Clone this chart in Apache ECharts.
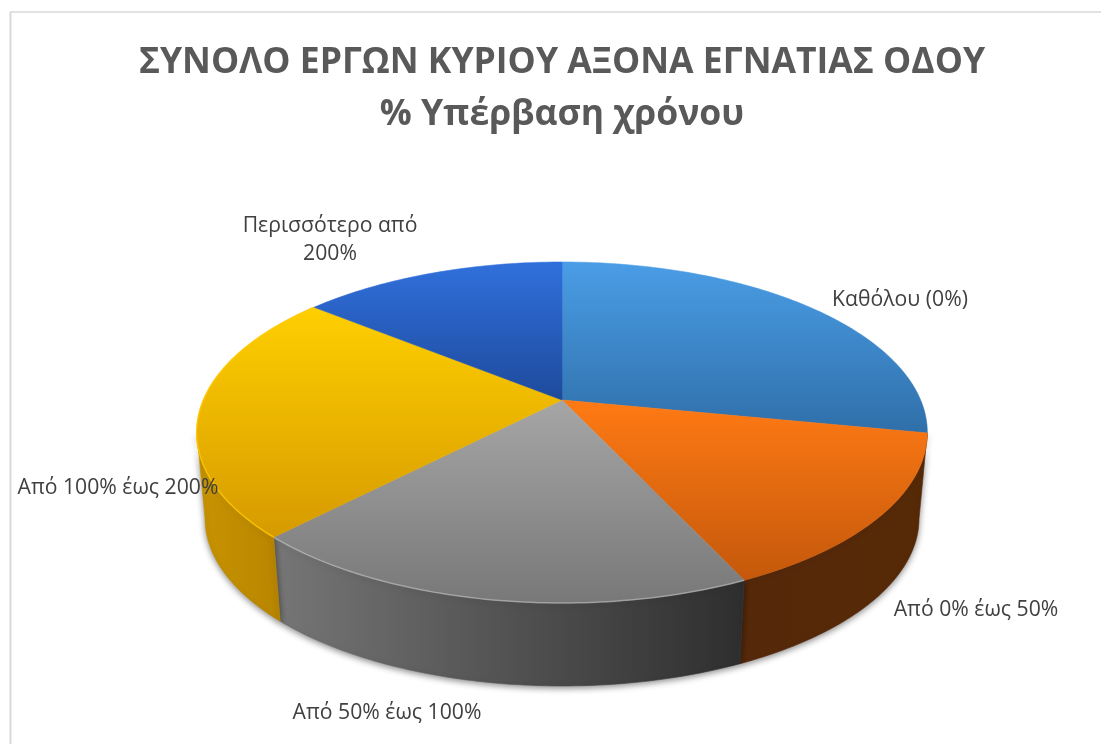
<!DOCTYPE html>
<html>
<head>
<meta charset="utf-8">
<style>html,body{margin:0;padding:0;background:#fff}#chart{width:1101px;height:744px}</style>
<script src="https://cdn.jsdelivr.net/npm/echarts@6/dist/echarts.min.js"></script>
</head>
<body>
<div id="chart"></div>
<script>
const categories = ['Καθόλου (0%)', 'Από 0% έως 50%', 'Από 50% έως 100%', 'Από 100% έως 200%', 'Περισσότερο από\n200%'];
const shares = [28.1, 15.0, 19.1, 23.7, 14.1];
const titleText = 'ΣΥΝΟΛΟ ΕΡΓΩΝ ΚΥΡΙΟΥ ΑΞΟΝΑ ΕΓΝΑΤΙΑΣ ΟΔΟΥ\n% Υπέρβαση χρόνου';

const topColors = [['#4A9DE6', '#2F6FA9'], ['#FF7A14', '#C4580B'], ['#A6A6A6', '#787878'], ['#FFCF00', '#D69A00'], ['#3070DC', '#1E4A9C']];
const wallColors = [['#2F6FA9', '#2F6FA9'], ['#55280A', '#572A06'], ['#767676', '#2E2E2E'], ['#C99400', '#B88500'], ['#1E4A9C', '#1E4A9C']];
const rimColors = ['rgba(0,0,0,0)', 'rgba(0,0,0,0)', 'rgba(205,205,205,0.5)', 'rgba(255,200,0,0.8)', 'rgba(0,0,0,0)'];
const labelPos = [[900, 300], [976, 610], [387, 713], [118, 488], [330, 240]];

// Perspective view of the disc: tip of the wedges, top ellipse and base ellipse
const view = { cx: 562, tipY: 400, A: 358.6, B: 164.3, a: 0.1906, topCy: 432, topRx: 365.3, topRy: 171, baseCy: 518, baseRx: 357, baseRy: 168, frontFrom: 100.8, frontTo: 259.2 };

const total = shares.reduce((s, v) => s + v, 0);
function startAngle(i) {
  let s = 0;
  for (let k = 0; k < i; k++) s += shares[k];
  return s / total * 360;
}
function topPoint(deg) {
  const r = deg * Math.PI / 180, u = Math.sin(r), v = Math.cos(r), d = 1 + view.a * v;
  return [view.cx + view.A * u / d, view.tipY - view.B * v / d];
}
function basePoint(deg) {
  const p = topPoint(deg);
  return [view.cx + (p[0] - view.cx) / view.topRx * view.baseRx,
          view.baseCy + (p[1] - view.topCy) / view.topRy * view.baseRy];
}
function arc(fn, from, to) {
  const pts = [], n = Math.max(2, Math.ceil(to - from));
  for (let k = 0; k <= n; k++) pts.push(fn(from + (to - from) * k / n));
  return pts;
}
function grad(c, horizontal) {
  return new echarts.graphic.LinearGradient(0, 0, horizontal ? 1 : 0, horizontal ? 0 : 1, [
    { offset: 0, color: c[0] }, { offset: 1, color: c[1] }
  ]);
}
function rangeOf(api) {
  const i = api.value(0), from = startAngle(i);
  return { i, from, to: from + api.value(1) / total * 360 };
}

const chartData = shares.map((v, i) => ({ name: categories[i], value: [i, v] }));
const chart = echarts.init(document.getElementById('chart'), null, { renderer: 'canvas' });
chart.setOption({
  animation: false,
  backgroundColor: '#ffffff',
  title: {
    text: titleText,
    left: 557,
    top: 32,
    textAlign: 'center',
    textStyle: { fontFamily: 'Open Sans', fontWeight: 'bold', fontSize: 35.5, lineHeight: 52, color: '#595959' }
  },
  graphic: [
    { type: 'line', silent: true, shape: { x1: 10, y1: 12, x2: 1101, y2: 12 }, style: { stroke: '#d9d9d9', lineWidth: 1.5 } },
    { type: 'line', silent: true, shape: { x1: 10.5, y1: 12, x2: 10.5, y2: 744 }, style: { stroke: '#d9d9d9', lineWidth: 2 } }
  ],
  series: [
    {
      type: 'custom', coordinateSystem: 'none', silent: true, z: 1, data: chartData,
      renderItem: function (params, api) {
        const r = rangeOf(api);
        const from = Math.max(r.from, view.frontFrom), to = Math.min(r.to, view.frontTo);
        if (to - from < 1) return null;
        const pts = arc(topPoint, from, to).concat(arc(basePoint, from, to).reverse());
        const fill = grad(wallColors[r.i], true);
        return {
          type: 'polygon',
          shape: { points: pts },
          style: { fill: fill, stroke: fill, lineWidth: 0.6, shadowBlur: 6, shadowOffsetY: 2, shadowOffsetX: 0, shadowColor: 'rgba(0,0,0,0.45)' }
        };
      }
    },
    {
      type: 'custom', coordinateSystem: 'none', silent: true, z: 2, data: chartData,
      renderItem: function (params, api) {
        const r = rangeOf(api);
        const edge = arc(topPoint, r.from, r.to);
        const fill = grad(topColors[r.i], false);
        return {
          type: 'group',
          children: [
            { type: 'polygon', shape: { points: [[view.cx, view.tipY]].concat(edge) }, style: { fill: fill, stroke: fill, lineWidth: 0.6 } },
            { type: 'polyline', shape: { points: edge }, style: { fill: null, stroke: rimColors[r.i], lineWidth: 1.5 } }
          ]
        };
      }
    },
    {
      type: 'custom', coordinateSystem: 'none', silent: true, z: 3, data: chartData,
      renderItem: function (params, api) {
        const i = api.value(0);
        return {
          type: 'text',
          x: labelPos[i][0],
          y: labelPos[i][1],
          style: { text: categories[i], align: 'center', verticalAlign: 'middle', fontFamily: 'Open Sans', fontSize: 21.2, lineHeight: 28, fill: '#404040' }
        };
      }
    }
  ]
});
</script>
</body>
</html>
